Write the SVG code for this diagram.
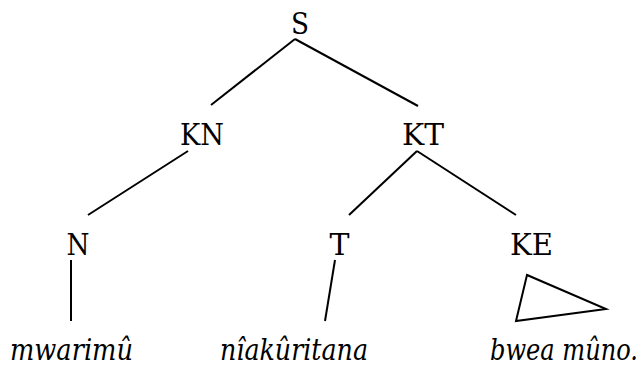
<svg xmlns="http://www.w3.org/2000/svg" width="643" height="367" viewBox="0 0 643 367">
<style>
.lbl{font-family:"DejaVu Serif","Liberation Serif",serif;font-size:29px;fill:#000;text-anchor:middle}
.word{font-family:"DejaVu Serif","Liberation Serif",serif;font-size:29px;font-style:italic;fill:#000}
.edge{stroke:#000;stroke-width:2;fill:none;stroke-linecap:butt}
</style>
<rect width="643" height="367" fill="#fff"/>
<g id="connectors">
<line class="edge" x1="295" y1="39" x2="211" y2="105"/>
<line class="edge" x1="295" y1="39" x2="418" y2="106"/>
<line class="edge" x1="188" y1="151" x2="88" y2="215"/>
<line class="edge" x1="417" y1="151" x2="349" y2="215"/>
<line class="edge" x1="417" y1="151" x2="516" y2="215"/>
<line class="edge" x1="71" y1="260" x2="71" y2="321"/>
<line class="edge" x1="335" y1="260" x2="325" y2="321"/>
<polygon class="edge" points="527,275 516,321 606,309"/>
</g>
<g id="node-S"><text class="lbl" x="300" y="34" textLength="18" lengthAdjust="spacingAndGlyphs">S</text></g>
<g id="node-KN"><text class="lbl" x="202" y="145" textLength="44" lengthAdjust="spacingAndGlyphs">KN</text></g>
<g id="node-KT"><text class="lbl" x="423" y="145" textLength="42" lengthAdjust="spacingAndGlyphs">KT</text></g>
<g id="node-N"><text class="lbl" x="78" y="255" textLength="23" lengthAdjust="spacingAndGlyphs">N</text></g>
<g id="node-T"><text class="lbl" x="339.5" y="255" textLength="20" lengthAdjust="spacingAndGlyphs">T</text></g>
<g id="node-KE"><text class="lbl" x="531.5" y="255" textLength="43" lengthAdjust="spacingAndGlyphs">KE</text></g>
<g id="word-1"><text class="word" x="10" y="360" textLength="123" lengthAdjust="spacingAndGlyphs">mwarimû</text></g>
<g id="word-2"><text class="word" x="220" y="360" textLength="148" lengthAdjust="spacingAndGlyphs">nîakûritana</text></g>
<g id="word-3"><text class="word" x="490" y="360" textLength="148" lengthAdjust="spacingAndGlyphs">bwea mûno.</text></g>
</svg>
